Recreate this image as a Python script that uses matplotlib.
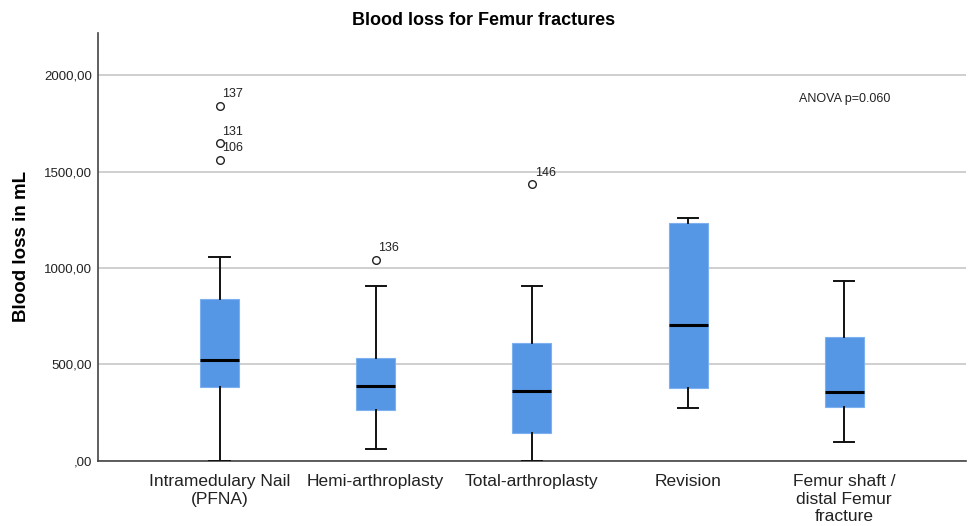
import matplotlib.pyplot as plt
from matplotlib.ticker import FuncFormatter

plt.rcParams['font.family'] = ['Liberation Sans', 'DejaVu Sans']

# categories and box statistics (mL)
categories = ["Intramedulary Nail\n(PFNA)", "Hemi-arthroplasty", "Total-arthroplasty",
              "Revision", "Femur shaft /\ndistal Femur\nfracture"]
whisker_low = [0, 61, 0, 274, 98]
q1 = [382, 262, 145, 377, 277]
median = [521, 389, 363, 704, 355]
q3 = [839, 531, 612, 1234, 644]
whisker_high = [1056, 907, 905, 1262, 933]
outliers = [[1843, 1649, 1563], [1042], [1435], [], []]
outlier_ids = [["137", "131", "106"], ["136"], ["146"], [], []]

y_ticks = [0, 500, 1000, 1500, 2000]
anova_text = "ANOVA p=0.060"

box_color = "#5596e5"

fig = plt.figure(figsize=(9.68, 5.26), dpi=100)
ax = fig.add_axes([0.101, 0.1245, 0.897, 0.8125])

stats = []
for i in range(len(categories)):
    stats.append({
        'whislo': whisker_low[i], 'q1': q1[i], 'med': median[i],
        'q3': q3[i], 'whishi': whisker_high[i], 'fliers': outliers[i],
    })

positions = list(range(1, len(categories) + 1))
ax.bxp(stats, positions=positions, widths=0.25, patch_artist=True,
       showcaps=True,
       boxprops=dict(facecolor=box_color, edgecolor="#7db0ef", linewidth=0.8),
       medianprops=dict(color='black', linewidth=2.2),
       whiskerprops=dict(color='#111111', linewidth=1.4),
       capprops=dict(color='#111111', linewidth=1.4),
       capwidths=0.13,
       flierprops=dict(marker='o', markerfacecolor='none', markeredgecolor='#222222',
                       markersize=5.5, markeredgewidth=1.0),
       zorder=3)

# outlier case labels
for pos, vals, ids in zip(positions, outliers, outlier_ids):
    for v, lab in zip(vals, ids):
        ax.annotate(lab, (pos, v), xytext=(2, 4), textcoords='offset points',
                    ha='left', va='bottom', fontsize=9, color='#222222')

ax.set_xlim(0.22, 5.78)
ax.set_ylim(0, 2220)
ax.set_yticks(y_ticks)


def comma_fmt(v, pos):
    s = f"{v:.2f}".replace('.', ',')
    if s.startswith('0,'):
        s = s[1:]
    return s


ax.yaxis.set_major_formatter(FuncFormatter(comma_fmt))
ax.set_xticks(positions)
ax.set_xticklabels(categories, fontsize=12.5, color='#222222', linespacing=1.2)
ax.tick_params(axis='x', length=0, pad=10)
ax.tick_params(axis='y', length=0, pad=4, labelsize=9.5, labelcolor='#222222')

ax.grid(axis='y', color='#cfcfcf', linewidth=1.4, zorder=0)
ax.set_axisbelow(True)
for side in ['top', 'right']:
    ax.spines[side].set_visible(False)
for side in ['left', 'bottom']:
    ax.spines[side].set_color('#444444')
    ax.spines[side].set_linewidth(1.2)

ax.set_ylabel("Blood loss in mL", fontsize=13.5, fontweight='bold', labelpad=10)
ax.text(5.0, 1879, anova_text, ha='center', va='center', fontsize=9, color='#222222')

fig.suptitle("Blood loss for Femur fractures", x=0.5, y=0.978, fontsize=13,
             fontweight='bold', va='top')

fig.savefig("out.png", dpi=100)
